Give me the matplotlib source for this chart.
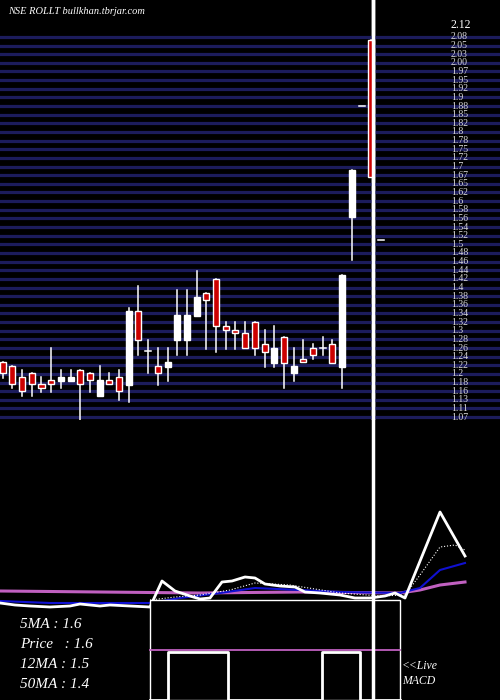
import numpy as np
import matplotlib
matplotlib.use("Agg")
import matplotlib.pyplot as plt
from matplotlib.patches import Rectangle

opens  = [1.189,1.178,1.147,1.158,1.128,1.139,1.138,1.138,1.167,1.158,1.096,1.139,1.147,1.127,1.332,1.221,1.178,1.177,1.250,1.250,
          1.319,1.382,1.421,1.290,1.278,1.270,1.302,1.239,1.188,1.259,1.158,1.197,1.229,1.228,1.239,1.177,1.595,1.904,2.088,1.530]
highs  = [1.190,1.178,1.167,1.158,1.148,1.229,1.167,1.167,1.167,1.158,1.179,1.158,1.167,1.340,1.402,1.251,1.229,1.229,1.391,1.391,
          1.444,1.382,1.421,1.302,1.302,1.302,1.302,1.279,1.290,1.259,1.229,1.251,1.240,1.260,1.251,1.433,1.726,1.904,2.088,1.530]
lows   = [1.146,1.116,1.096,1.096,1.107,1.107,1.116,1.138,1.026,1.107,1.096,1.128,1.085,1.077,1.208,1.158,1.127,1.138,1.208,1.208,
          1.319,1.227,1.219,1.227,1.227,1.228,1.208,1.177,1.177,1.116,1.138,1.189,1.197,1.208,1.188,1.116,1.475,1.904,1.706,1.530]
closes = [1.158,1.128,1.108,1.128,1.117,1.128,1.148,1.148,1.128,1.139,1.139,1.128,1.108,1.332,1.250,1.221,1.158,1.189,1.321,1.321,
          1.371,1.362,1.290,1.278,1.270,1.228,1.228,1.219,1.229,1.188,1.178,1.189,1.208,1.228,1.188,1.433,1.726,1.904,1.706,1.530]
no_wick = [37, 39]

tick_labels = ["2.08","2.05","2.03","2.00","1.97","1.95","1.92","1.9","1.88","1.85","1.82","1.8","1.78","1.75","1.72",
               "1.7","1.67","1.65","1.62","1.6","1.58","1.56","1.54","1.52","1.5","1.48","1.46","1.44","1.42","1.4",
               "1.38","1.36","1.34","1.32","1.3","1.28","1.26","1.24","1.22","1.2","1.18","1.16","1.13","1.11","1.07"]
top_label = "2.12"

macd_x = [0,15,30,50,70,80,100,110,130,150,162,175,190,200,210,222,232,245,255,265,280,295,305,320,340,355,370,385,395,405,440,465]
macd_y = [603,605,606,607,606,604,606,605,606,607,581,591,596,599,598,582,581,577,578,584,586,587,592,593,595,598,598,596,593,598,512,556]
sig_x = [150,175,200,230,255,290,340,380,405,420,440,455,465]
sig_y = [600,597,595,590,583,585,593,596,595,575,547,545,550]
blue_x = [0,50,100,150,180,220,255,300,340,400,420,440,465]
blue_y = [601,603,603,603,598,593,588,590,592,593,588,570,563]
mag_x = [0,100,200,300,400,420,440,465]
mag_y = [591,592,593,592,593,590,585,582]
hist_x = [150,168,168,228,228,322,322,360,360,400]
hist_y = [700,700,652,652,700,700,652,652,700,700]
ma_texts = ["5MA : 1.6", "Price   : 1.6", "12MA : 1.5", "50MA : 1.4"]

fig = plt.figure(figsize=(5, 7), dpi=100, facecolor="black")
serif = ["Liberation Serif", "DejaVu Serif"]

base = fig.add_axes([0, 0, 1, 1])
base.set_xlim(0, 500); base.set_ylim(700, 0); base.axis("off")
base.set_facecolor("black")

ax = fig.add_axes([0, 280/700, 1, 420/700])
ax.set_facecolor("none")
ax.axis("off")
ax.set_ylim(1.028, 2.200)
ax.set_xlim(-0.278, 51.27)
ticks = np.linspace(2.097, 1.036, len(tick_labels))
for t, lab in zip(ticks, tick_labels):
    ax.axhline(t, color="#1c1c5c", lw=2.3, zorder=0)
    ax.text(46.2, t, lab, color="#d8d8d8", fontsize=7, family=serif, va="center", ha="left")
ax.text(46.2, 2.13, top_label, color="white", fontsize=8.5, family=serif, va="center", ha="left")

w = 0.62
for i, (o, h, l, c) in enumerate(zip(opens, highs, lows, closes)):
    if i not in no_wick:
        ax.plot([i, i], [l, h], color="white", lw=1.1, zorder=2)
    if abs(o - c) < 1e-4:
        ax.plot([i - w/2, i + w/2], [o, o], color="white", lw=1.1, zorder=3)
        continue
    col = "white" if c > o else "#cc0000"
    ax.add_patch(Rectangle((i - w/2, min(o, c)), w, abs(c - o), facecolor=col,
                           edgecolor="white", lw=1.0, zorder=3))
ax.axvline(38.2, color="white", lw=2.5, zorder=5)

base.plot(mag_x, mag_y, color="#c060c0", lw=2.2)
base.plot(blue_x, blue_y, color="#1010d0", lw=1.5)
base.plot(sig_x, sig_y, color="white", lw=0.8, ls=":")
base.plot(macd_x, macd_y, color="white", lw=2.0)
base.add_patch(Rectangle((150, 600), 250, 100, facecolor="black", edgecolor="white", lw=1.0, zorder=3))
base.plot([150, 400], [650, 650], color="#c060c0", lw=1.3, zorder=4)
base.plot(hist_x, hist_y, color="white", lw=2.0, zorder=4)
base.plot([373, 373], [0, 700], color="white", lw=2.5, zorder=5)

for k, s in enumerate(ma_texts):
    base.text(20, 625 + 20*k, s, color="white", fontsize=11, family=serif, style="italic", va="center")
base.text(402, 666, "<<Live", color="white", fontsize=8.5, family=serif, style="italic", va="center")
base.text(402, 681, "MACD", color="white", fontsize=8.5, family=serif, style="italic", va="center")
base.text(8, 11, "NSE ROLLT bullkhan.tbrjar.com", color="white", fontsize=7.5, family=serif, style="italic", va="center")

fig.savefig("out.png", dpi=100, facecolor="black")
